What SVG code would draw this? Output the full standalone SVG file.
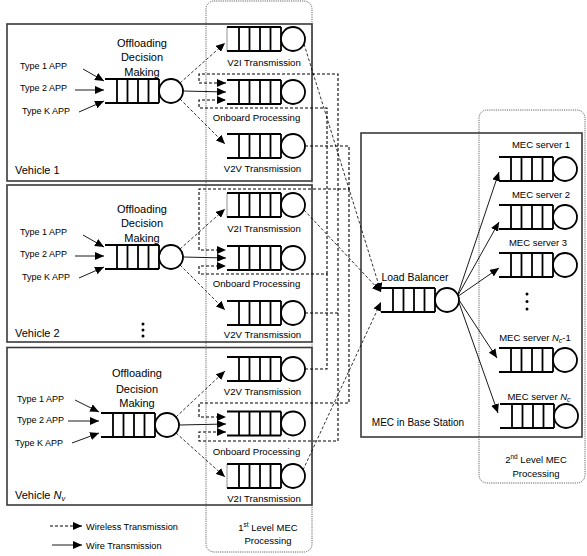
<svg xmlns="http://www.w3.org/2000/svg" xmlns:xlink="http://www.w3.org/1999/xlink" width="587" height="556" viewBox="0 0 587 556">
<style>
text{font-family:"Liberation Sans",Arial,sans-serif;fill:#000}
.t9{font-size:9px}
.t10{font-size:9.6px}
.t11{font-size:11px}
.mid{text-anchor:middle}
.box{fill:none;stroke:#3a3a3a;stroke-width:1.6}
.grp{fill:none;stroke:#666;stroke-width:1;stroke-dasharray:1.2,1}
.wl{fill:none;stroke:#000;stroke-width:1.1;stroke-dasharray:3,2}
.wd{fill:none;stroke:#000;stroke-width:0.8;stroke-dasharray:3,2}
.ws{fill:none;stroke:#000;stroke-width:0.9}
.arr{marker-end:url(#ah)}
</style>
<defs>
<marker id="ah" markerUnits="userSpaceOnUse" markerWidth="9" markerHeight="8" refX="9" refY="4" orient="auto">
<path d="M0,0 L9,4 L0,8 Z" fill="#000"/>
</marker>
<g id="q">
<path d="M0,0 H54 M0,24 H54 M12,0 V24 M22.5,0 V24 M33,0 V24 M43.5,0 V24 M54,0 V24" fill="none" stroke="#000" stroke-width="1.8"/>
<circle cx="66" cy="12" r="12" fill="#fff" stroke="#000" stroke-width="1.8"/>
</g>
<g id="qi">
<path d="M0,0 V24" stroke="#777" stroke-width="0.8"/>
<use xlink:href="#q" href="#q"/>
</g>
</defs>

<!-- grouping frames -->
<rect id="level1" class="grp" x="206" y="1" width="106" height="551" rx="8"/>
<rect id="level2" class="grp" x="479" y="110" width="106" height="373" rx="8"/>

<!-- vehicle and base station boxes -->
<rect id="vehicle1-box" class="box" x="7" y="24" width="305" height="157"/>
<rect id="vehicle2-box" class="box" x="7" y="185" width="305" height="157"/>
<rect id="vehicleN-box" class="box" x="7" y="347.5" width="305" height="157.5"/>
<rect id="mec-box" class="box" x="361" y="133" width="221" height="304"/>

<g id="connectors">
<!-- app inputs -->
<path class="ws arr" d="M83,69 L104,81"/>
<path class="ws arr" d="M75,90 L104,90"/>
<path class="ws arr" d="M79,112 L104,101"/>
<path class="ws arr" d="M83,235 L104,247"/>
<path class="ws arr" d="M75,256 L104,256"/>
<path class="ws arr" d="M79,278 L104,267"/>
<path class="ws arr" d="M75,400 L99,412"/>
<path class="ws arr" d="M68,421 L99,421"/>
<path class="ws arr" d="M72,443 L99,433"/>
<!-- decision outputs -->
<path class="wd arr" d="M180,83 L225,43"/>
<path class="ws arr" d="M183,91 L226,92"/>
<path class="wd arr" d="M180,99 L225,144"/>
<path class="wd arr" d="M180,249 L225,209"/>
<path class="ws arr" d="M183,257 L226,258"/>
<path class="wd arr" d="M180,265 L225,310"/>
<path class="wd arr" d="M176,417 L225,371"/>
<path class="ws arr" d="M179,425 L226,424"/>
<path class="wd arr" d="M176,433 L225,477"/>
<!-- V2V links -->
<path class="wl arr" d="M305,146 H349 V189 H199 V250 H226"/>
<path class="wl arr" d="M349,189 V403 H199 V417 H226"/>
<path class="wl arr" d="M305,313 H338 V74 H199 V83 H226"/>
<path class="wl arr" d="M338,313 V441 H199 V432 H226"/>
<path class="wl arr" d="M305,369 H327 V274 H199 V266 H226"/>
<path class="wl arr" d="M327,274 V108 H199 V100 H226"/>
<!-- V2I links -->
<path class="wd arr" d="M304,44 L381,292"/>
<path class="wd arr" d="M304,210 L381,292"/>
<path class="wd arr" d="M303,470 L381,302"/>
<!-- load balancer outputs -->
<path class="ws arr" d="M457,297 L499,172"/>
<path class="ws arr" d="M457,297 L499,222"/>
<path class="ws arr" d="M457,297 L499,268"/>
<path class="ws arr" d="M457,297 L497,358"/>
<path class="ws arr" d="M457,297 L498,413"/>
<!-- legend -->
<path class="wl arr" d="M50,526 H82"/>
<path class="ws arr" d="M52,545 H82"/>
</g>

<!-- Vehicle 1 -->
<g id="vehicle1">
<text class="t11 mid" x="142" y="47">Offloading</text>
<text class="t11 mid" x="142" y="61">Decision</text>
<text class="t11 mid" x="142" y="76">Making</text>
<text class="t9" x="20" y="69">Type 1 APP</text>
<text class="t9" x="20" y="91">Type 2 APP</text>
<text class="t9" x="22" y="114">Type K APP</text>
<text class="t11" x="15" y="174">Vehicle 1</text>
</g>
<g id="v1-decision"><use xlink:href="#q" href="#q" x="105" y="79"/></g>
<g id="v1-v2i"><use xlink:href="#qi" href="#qi" x="227" y="27"/><text class="t10 mid" x="264" y="65.5">V2I Transmission</text></g>
<g id="v1-onboard"><use xlink:href="#q" href="#q" x="227" y="80"/><text class="t10 mid" x="256.5" y="120.5">Onboard Processing</text></g>
<g id="v1-v2v"><use xlink:href="#q" href="#q" x="227" y="134"/><text class="t10 mid" x="262.5" y="171.5">V2V Transmission</text></g>

<!-- Vehicle 2 -->
<g id="vehicle2">
<text class="t11 mid" x="142" y="213">Offloading</text>
<text class="t11 mid" x="142" y="227">Decision</text>
<text class="t11 mid" x="142" y="242">Making</text>
<text class="t9" x="20" y="235">Type 1 APP</text>
<text class="t9" x="20" y="257">Type 2 APP</text>
<text class="t9" x="22" y="280">Type K APP</text>
<text class="t11" x="15" y="337">Vehicle 2</text>
<circle cx="143" cy="324" r="1.5"/><circle cx="143" cy="330" r="1.5"/><circle cx="143" cy="336" r="1.5"/>
</g>
<g id="v2-decision"><use xlink:href="#q" href="#q" x="105" y="245"/></g>
<g id="v2-v2i"><use xlink:href="#qi" href="#qi" x="227" y="193"/><text class="t10 mid" x="264" y="231.5">V2I Transmission</text></g>
<g id="v2-onboard"><use xlink:href="#q" href="#q" x="227" y="246"/><text class="t10 mid" x="256.5" y="286.5">Onboard Processing</text></g>
<g id="v2-v2v"><use xlink:href="#q" href="#q" x="227" y="301"/><text class="t10 mid" x="262.5" y="337.5">V2V Transmission</text></g>

<!-- Vehicle Nv -->
<g id="vehicleN">
<text class="t11 mid" x="137" y="377">Offloading</text>
<text class="t11 mid" x="137" y="393">Decision</text>
<text class="t11 mid" x="137" y="407">Making</text>
<text class="t9" x="17" y="401.5">Type 1 APP</text>
<text class="t9" x="17" y="422.5">Type 2 APP</text>
<text class="t9" x="15" y="445.5">Type K APP</text>
<text class="t11" x="15" y="499">Vehicle <tspan font-style="italic">N</tspan><tspan font-style="italic" font-size="7.5" dy="2">v</tspan></text>
</g>
<g id="vN-decision"><use xlink:href="#q" href="#q" x="101" y="413"/></g>
<g id="vN-v2v"><use xlink:href="#q" href="#q" x="227" y="357"/><text class="t10 mid" x="262.5" y="394.5">V2V Transmission</text></g>
<g id="vN-onboard"><use xlink:href="#q" href="#q" x="227" y="411.5"/><text class="t10 mid" x="256.5" y="454.5">Onboard Processing</text></g>
<g id="vN-v2i"><use xlink:href="#qi" href="#qi" x="227" y="464"/><text class="t10 mid" x="264" y="501.5">V2I Transmission</text></g>

<!-- Base station -->
<g id="load-balancer">
<text class="mid" font-size="10.4" x="415" y="280.5">Load Balancer</text>
<use xlink:href="#q" href="#q" x="381" y="288"/>
</g>
<text id="mec-label" class="mid" font-size="10" x="418" y="425.5">MEC in Base Station</text>
<g id="mec1"><text class="mid" font-size="9.5" x="541" y="147.5">MEC server 1</text><use xlink:href="#q" href="#q" x="499" y="157"/></g>
<g id="mec2"><text class="mid" font-size="9.5" x="541" y="197.5">MEC server 2</text><use xlink:href="#q" href="#q" x="499" y="205"/></g>
<g id="mec3"><text class="mid" font-size="9.5" x="538" y="245.5">MEC server 3</text><use xlink:href="#q" href="#q" x="499" y="253"/></g>
<g id="mec-dots"><circle cx="527" cy="294" r="1.5"/><circle cx="527" cy="301.5" r="1.5"/><circle cx="527" cy="309" r="1.5"/></g>
<g id="mecN1"><text class="mid" font-size="9.5" x="535" y="340.5">MEC server <tspan font-style="italic">N</tspan><tspan font-style="italic" font-size="7" dy="2">c</tspan><tspan dy="-2">-1</tspan></text><use xlink:href="#q" href="#q" x="499" y="348"/></g>
<g id="mecN"><text class="mid" font-size="9.5" x="539" y="399.5">MEC server <tspan font-style="italic">N</tspan><tspan font-style="italic" font-size="7" dy="2">c</tspan></text><use xlink:href="#q" href="#q" x="500" y="404"/></g>

<!-- group labels -->
<g id="level1-label">
<text class="mid" font-size="9.5" x="268" y="530.5">1<tspan font-size="6.5" dy="-3.5">st</tspan><tspan dy="3.5"> Level MEC</tspan></text>
<text class="mid" font-size="9.5" x="268" y="543.5">Processing</text>
</g>
<g id="level2-label">
<text class="mid" font-size="9.5" x="536" y="462.5">2<tspan font-size="6.5" dy="-3.5">nd</tspan><tspan dy="3.5"> Level MEC</tspan></text>
<text class="mid" font-size="9.5" x="536" y="476.5">Processing</text>
</g>

<!-- legend -->
<g id="legend">
<text font-size="9.2" x="86" y="529.5">Wireless Transmission</text>
<text font-size="9.2" x="86" y="548.5">Wire Transmission</text>
</g>
</svg>
